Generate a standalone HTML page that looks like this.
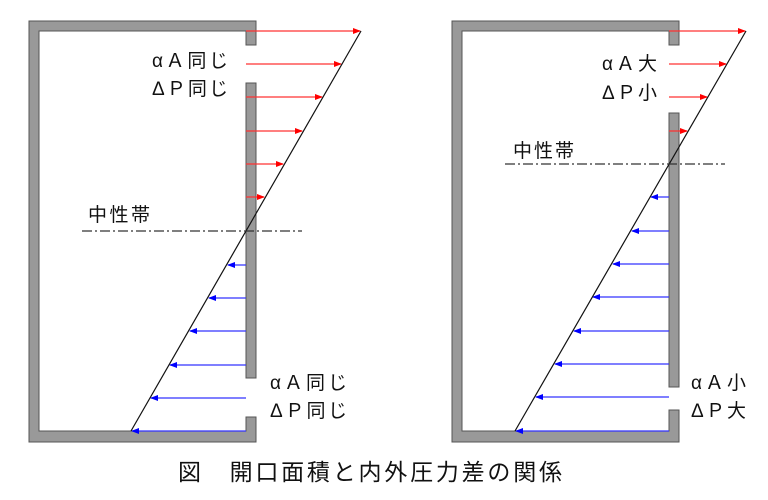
<!DOCTYPE html>
<html><head><meta charset="utf-8"><style>
html,body{margin:0;padding:0;background:#fff;}
svg{display:block;}
text{font-family:"Liberation Sans","Noto Sans CJK JP",sans-serif;fill:#111;}
</style></head><body>
<svg width="768" height="500" viewBox="0 0 768 500" xmlns="http://www.w3.org/2000/svg">
<defs>
<marker id="r" markerWidth="8" markerHeight="6" refX="7" refY="3" orient="auto" markerUnits="userSpaceOnUse"><path d="M0,0 L8,3 L0,6 Z" fill="#f00"/></marker>
<marker id="b" markerWidth="8" markerHeight="6" refX="7" refY="3" orient="auto" markerUnits="userSpaceOnUse"><path d="M0,0 L8,3 L0,6 Z" fill="#00f"/></marker>
</defs>
<path d="M29,21 H256 V45 H246 V31 H39 V431 H246 V417 H256 V442 H29 Z" fill="#999" stroke="#555" stroke-width="1"/>
<rect x="246" y="83" width="10" height="295" fill="#999" stroke="#555" stroke-width="1"/>
<g stroke="#f33" stroke-width="1.2" marker-end="url(#r)">
<line x1="246" y1="31" x2="360" y2="31"/>
<line x1="246" y1="64" x2="341" y2="64"/>
<line x1="246" y1="97" x2="322" y2="97"/>
<line x1="246" y1="131" x2="302" y2="131"/>
<line x1="246" y1="164" x2="283" y2="164"/>
<line x1="246" y1="197" x2="264" y2="197"/>
</g>
<g stroke="#33f" stroke-width="1.2" marker-end="url(#b)">
<line x1="246" y1="265" x2="228" y2="265"/>
<line x1="246" y1="298" x2="209" y2="298"/>
<line x1="246" y1="331" x2="190" y2="331"/>
<line x1="246" y1="365" x2="170" y2="365"/>
<line x1="246" y1="398" x2="151" y2="398"/>
<line x1="246" y1="431" x2="132" y2="431"/>
</g>
<line x1="361" y1="31" x2="131" y2="431" stroke="#111" stroke-width="1.2"/>
<line x1="82" y1="231" x2="302" y2="231" stroke="#333" stroke-width="1.2" stroke-dasharray="10,3,2,3"/>
<text x="152" y="67" font-size="19" textLength="76" lengthAdjust="spacing">αＡ同じ</text>
<text x="152" y="95" font-size="19" textLength="76" lengthAdjust="spacing">ΔＰ同じ</text>
<text x="88" y="221" font-size="19" textLength="62" lengthAdjust="spacing">中性帯</text>
<text x="270" y="389" font-size="19" textLength="77" lengthAdjust="spacing">αＡ同じ</text>
<text x="270" y="417" font-size="19" textLength="77" lengthAdjust="spacing">ΔＰ同じ</text>
<path d="M452,21 H679 V45 H669 V31 H462 V431 H669 V410 H679 V442 H452 Z" fill="#999" stroke="#555" stroke-width="1"/>
<rect x="669" y="113" width="10" height="274" fill="#999" stroke="#555" stroke-width="1"/>
<g stroke="#f33" stroke-width="1.2" marker-end="url(#r)">
<line x1="669" y1="31" x2="745" y2="31"/>
<line x1="669" y1="64" x2="726" y2="64"/>
<line x1="669" y1="97" x2="707" y2="97"/>
<line x1="669" y1="131" x2="687" y2="131"/>
</g>
<g stroke="#33f" stroke-width="1.2" marker-end="url(#b)">
<line x1="669" y1="197" x2="651" y2="197"/>
<line x1="669" y1="231" x2="632" y2="231"/>
<line x1="669" y1="264" x2="613" y2="264"/>
<line x1="669" y1="297" x2="593" y2="297"/>
<line x1="669" y1="331" x2="574" y2="331"/>
<line x1="669" y1="364" x2="555" y2="364"/>
<line x1="669" y1="397" x2="536" y2="397"/>
<line x1="669" y1="431" x2="516" y2="431"/>
</g>
<line x1="746" y1="31" x2="515" y2="431" stroke="#111" stroke-width="1.2"/>
<line x1="505" y1="164" x2="725" y2="164" stroke="#333" stroke-width="1.2" stroke-dasharray="10,3,2,3"/>
<text x="602" y="70" font-size="19" textLength="55" lengthAdjust="spacing">αＡ大</text>
<text x="602" y="99" font-size="19" textLength="55" lengthAdjust="spacing">ΔＰ小</text>
<text x="513" y="157" font-size="19" textLength="61" lengthAdjust="spacing">中性帯</text>
<text x="691" y="389" font-size="19" textLength="55" lengthAdjust="spacing">αＡ小</text>
<text x="691" y="417" font-size="19" textLength="55" lengthAdjust="spacing">ΔＰ大</text>
<text x="178" y="480" font-size="23" textLength="384" lengthAdjust="spacing">図　開口面積と内外圧力差の関係</text>
</svg>
</body></html>
